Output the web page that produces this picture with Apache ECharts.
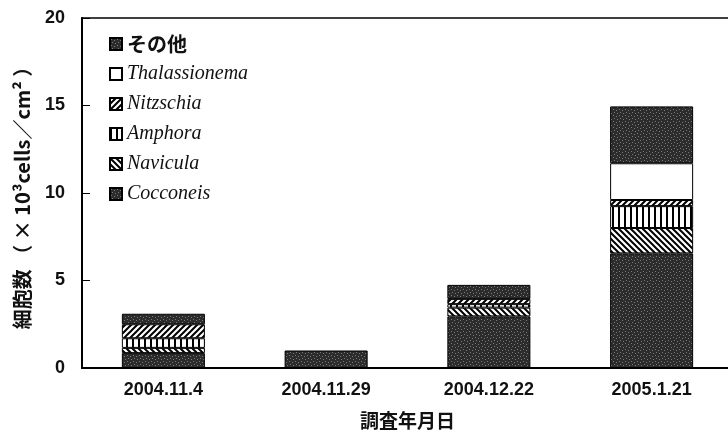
<!DOCTYPE html>
<html>
<head>
<meta charset="utf-8">
<script src="https://cdn.jsdelivr.net/npm/echarts@6/dist/echarts.min.js"></script>
<style>
html, body { margin: 0; padding: 0; background: #fff; }
#chart { width: 728px; height: 436px; }
</style>
</head>
<body>
<div id="chart"></div>
<script>
// 調査年月日
var dates = ['2004.11.4', '2004.11.29', '2004.12.22', '2005.1.21'];
// 細胞数 (x10^3 cells/cm2), stacked bottom -> top
var cocconeis = [0.85, 1.0, 2.95, 6.55];
var navicula = [0.3, 0, 0.5, 1.45];
var amphora = [0.55, 0, 0.2, 1.25];
var nitzschia = [0.8, 0, 0.3, 0.35];
var thalassionema = [0, 0, 0, 2.1];
var others = [0.6, 0, 0.8, 3.25];
var yTicks = [0, 5, 10, 15, 20];

// fill patterns like the printed figure
function pattern(kind) {
    var c = document.createElement('canvas');
    c.width = 6; c.height = 6;
    var g = c.getContext('2d');
    g.fillStyle = kind === 'dark' ? '#2c2c2c' : '#fff';
    g.fillRect(0, 0, 6, 6);
    g.strokeStyle = '#000';
    g.lineWidth = 2;
    if (kind === 'dark') {
        g.fillStyle = '#7a7a7a';
        g.fillRect(1, 1, 1, 1);
        g.fillRect(4, 2, 1, 1);
        g.fillRect(2, 4, 1, 1);
        g.fillRect(5, 5, 1, 1);
    } else if (kind === 'slash') {
        g.beginPath();
        g.moveTo(-1, 7); g.lineTo(7, -1);
        g.moveTo(-4, 4); g.lineTo(4, -4);
        g.moveTo(2, 10); g.lineTo(10, 2);
        g.stroke();
    } else if (kind === 'back') {
        g.beginPath();
        g.moveTo(-1, -1); g.lineTo(7, 7);
        g.moveTo(-4, 2); g.lineTo(4, 10);
        g.moveTo(2, -4); g.lineTo(10, 4);
        g.stroke();
    } else if (kind === 'vert') {
        g.fillStyle = '#000';
        g.fillRect(0, 0, 2, 6);
    }
    return { image: c, repeat: 'repeat' };
}

function bar(name, values, fill) {
    return {
        name: name,
        type: 'bar',
        stack: 'all',
        barWidth: '51%',
        data: values.map(function (v) { return v === 0 ? '-' : v; }),
        itemStyle: { color: fill, borderColor: '#000', borderWidth: 1 }
    };
}

var chartDom = document.getElementById('chart');
var myChart = echarts.init(chartDom);
var option;

option = {
    animation: false,
    grid: {
        left: 82, right: -5, top: 18, bottom: 68,
        outerBoundsMode: 'none',
        show: true, borderColor: '#000', borderWidth: 1.5
    },
    legend: {
        orient: 'vertical',
        left: 104, top: 29,
        itemWidth: 12, itemHeight: 12,
        itemGap: 10,
        icon: 'rect',
        data: ['その他', 'Thalassionema', 'Nitzschia', 'Amphora', 'Navicula', 'Cocconeis'],
        formatter: function (name) {
            return name === 'その他' ? '{a|' + name + '}' : '{b|' + name + '}';
        },
        textStyle: {
            rich: {
                a: { fontFamily: 'Noto Sans CJK JP', fontWeight: 'bold', fontSize: 20, color: '#111', lineHeight: 20 },
                b: { fontFamily: 'Liberation Serif', fontStyle: 'italic', fontSize: 20, color: '#111', lineHeight: 20 }
            }
        }
    },
    xAxis: {
        type: 'category',
        data: dates,
        name: '調査年月日',
        nameLocation: 'middle',
        nameGap: 43,
        nameTextStyle: { fontFamily: 'Noto Sans CJK JP', fontWeight: 'bold', fontSize: 19, color: '#111' },
        axisLine: { lineStyle: { color: '#000', width: 2 } },
        axisTick: { inside: true, length: 6, lineStyle: { color: '#000' } },
        axisLabel: { fontFamily: 'Liberation Sans', fontWeight: 'bold', fontSize: 18, color: '#111', margin: 13 }
    },
    yAxis: {
        type: 'value',
        min: yTicks[0],
        max: yTicks[yTicks.length - 1],
        interval: yTicks[1] - yTicks[0],
        name: '細胞数 （ × 10³cells／cm² ）',
        nameLocation: 'middle',
        nameGap: 50,
        nameTextStyle: { fontFamily: 'Noto Sans CJK JP', fontWeight: 'bold', fontSize: 20, color: '#111' },
        axisLine: { show: true, lineStyle: { color: '#000', width: 2 } },
        axisTick: { show: true, inside: true, length: 8, lineStyle: { color: '#000' } },
        splitLine: { show: false },
        axisLabel: { fontFamily: 'Liberation Sans', fontWeight: 'bold', fontSize: 18, color: '#111', margin: 17 }
    },
    series: [
        bar('Cocconeis', cocconeis, pattern('dark')),
        bar('Navicula', navicula, pattern('back')),
        bar('Amphora', amphora, pattern('vert')),
        bar('Nitzschia', nitzschia, pattern('slash')),
        bar('Thalassionema', thalassionema, '#fff'),
        bar('その他', others, pattern('dark'))
    ]
};

option && myChart.setOption(option);
</script>
</body>
</html>
